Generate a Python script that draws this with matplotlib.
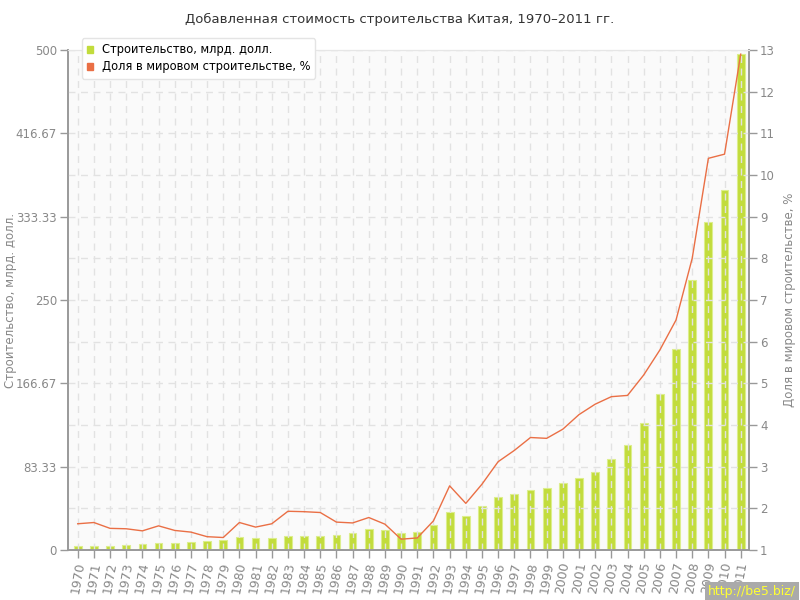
import matplotlib
matplotlib.use("Agg")
from matplotlib import pyplot as plt
from matplotlib.patches import Patch

years = list(range(1970, 2012))
construction = [
    3.7, 4.0, 4.3, 5.3, 6.0, 7.0, 7.0, 8.0, 8.7, 9.7,
    13.3, 12.3, 12.3, 14.3, 14.3, 14.3, 15.3, 17.3, 21.3, 20.3,
    17.3, 18.3, 25.3, 38.0, 34.3, 44.3, 53.3, 56.3, 60.3, 62.3,
    67.3, 72.3, 78.3, 91.3, 105.0, 127.3, 156.3, 201.3, 270.3, 328.0,
    360.0, 496.0,
]
world_share = [
    1.63, 1.66, 1.52, 1.51, 1.46, 1.58, 1.47, 1.43, 1.32, 1.30,
    1.66, 1.55, 1.63, 1.93, 1.92, 1.90, 1.67, 1.65, 1.78, 1.62,
    1.26, 1.29, 1.70, 2.54, 2.12, 2.58, 3.12, 3.39, 3.70, 3.68,
    3.90, 4.25, 4.50, 4.68, 4.71, 5.20, 5.80, 6.52, 8.00, 10.40,
    10.50, 12.90,
]
left_ticks = [0, 83.33, 166.67, 250, 333.33, 416.67, 500]
left_labels = ["0", "83.33", "166.67", "250", "333.33", "416.67", "500"]

bar_color = "#c2dc3c"
line_color = "#ea6f45"
axis_gray = "#999999"
text_gray = "#888888"

fig = plt.figure(figsize=(8, 6), dpi=100)
ax = fig.add_axes([0.085, 0.0833, 0.851, 0.8334])
ax.set_facecolor("#fafafa")

ax.bar(years, construction, width=0.48, color=bar_color,
       edgecolor="#dcee8c", linewidth=0.8, zorder=2)
ax.set_ylim(0, 500)
ax.set_xlim(1969.4, 2011.5)
ax.set_yticks(left_ticks)
ax.set_yticklabels(left_labels)
ax.set_yticks([41.67 + 83.33 * i for i in range(6)], minor=True)
ax.set_xticks(years)
ax.set_xticklabels([str(y) for y in years], rotation=80, ha="center")

ax.grid(True, which="both", color="#e2e2e2", linestyle=(0, (5, 4)),
        linewidth=1, zorder=3)
ax.set_axisbelow(False)

ax2 = ax.twinx()
ax2.plot(years, world_share, color=line_color, linewidth=1.0, zorder=4)
ax2.set_ylim(1, 13)
ax2.set_yticks(range(1, 14))

for a in (ax, ax2):
    for side in ("left", "right", "bottom"):
        a.spines[side].set_color(axis_gray)
        a.spines[side].set_linewidth(1.2)
    a.spines["top"].set_color("#e6e6e6")
    a.tick_params(colors=axis_gray, labelcolor=text_gray, labelsize=8.5,
                  length=6, width=1, pad=2)
    a.tick_params(which="minor", length=0)
ax.tick_params(axis="x", labelsize=9)

ax.set_ylabel("Строительство, млрд. долл.", color=text_gray, fontsize=8.5)
ax.yaxis.set_label_coords(-0.075, 0.5)
ax2.set_ylabel("Доля в мировом строительстве, %", color=text_gray,
               fontsize=8.5)
ax2.yaxis.set_label_coords(1.05, 0.5)

fig.suptitle("Добавленная стоимость строительства Китая, 1970–2011 гг.",
             x=0.5, y=0.978, fontsize=9.5, color="#333333")

handles = [Patch(color=bar_color), Patch(color=line_color)]
labels = ["Строительство, млрд. долл.", "Доля в мировом строительстве, %"]
leg = ax2.legend(handles, labels, loc="upper left",
                 bbox_to_anchor=(0.012, 1.035), fontsize=8.3,
                 frameon=True, fancybox=True, framealpha=1,
                 edgecolor="#e4e4e4", handlelength=0.55, handleheight=0.55,
                 borderpad=0.45, labelspacing=0.35, handletextpad=0.7)
leg.set_zorder(10)

fig.text(0.995, 0.003, "http://be5.biz/", ha="right", va="bottom",
         fontsize=9, color="#ffff33",
         bbox=dict(facecolor="#aaaaaa", edgecolor="none", pad=2))

fig.savefig("out.png", dpi=100)
